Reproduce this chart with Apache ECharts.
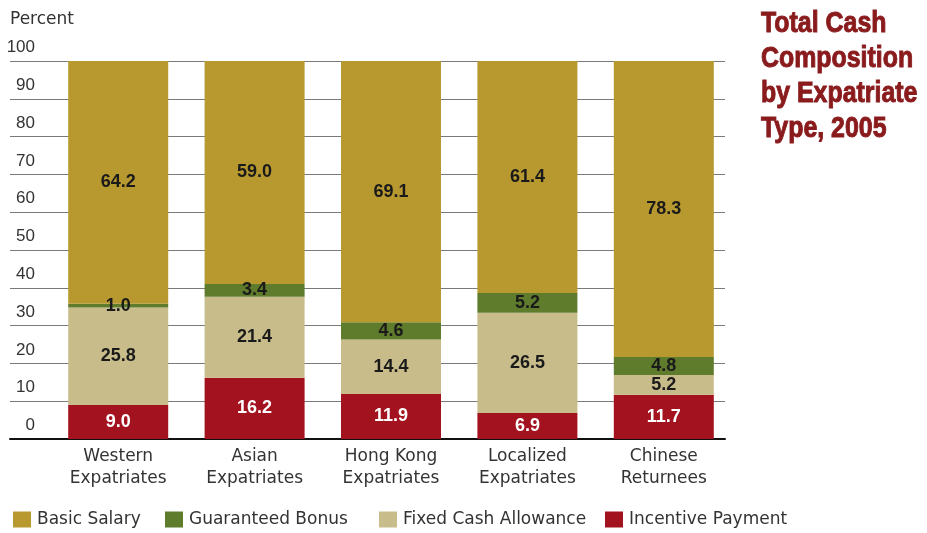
<!DOCTYPE html>
<html>
<head>
<meta charset="utf-8">
<script src="https://cdn.jsdelivr.net/npm/echarts@6/dist/echarts.min.js"></script>
<style>
  html, body { margin: 0; padding: 0; background: #fff; }
  #chart { width: 927px; height: 533px; }
</style>
</head>
<body>
<div id="chart"></div>
<script>
// Total cash composition by expatriate type, 2005 (percent of total cash)
const categories = [
  'Western\nExpatriates',
  'Asian\nExpatriates',
  'Hong Kong\nExpatriates',
  'Localized\nExpatriates',
  'Chinese\nReturnees'
];
const incentivePayment   = [9.0, 16.2, 11.9, 6.9, 11.7];
const fixedCashAllowance = [25.8, 21.4, 14.4, 26.5, 5.2];
const guaranteedBonus    = [1.0, 3.4, 4.6, 5.2, 4.8];
const basicSalary        = [64.2, 59.0, 69.1, 61.4, 78.3];
const yTicks = [0, 10, 20, 30, 40, 50, 60, 70, 80, 90, 100];
const legendNames = ['Basic Salary', 'Guaranteed Bonus', 'Fixed Cash Allowance', 'Incentive Payment'];
const titleText = 'Total Cash\nComposition\nby Expatriate\nType, 2005';

const labelFont = 'DejaVu Sans';
const tickFont = '"Liberation Sans", Arial, sans-serif';
const valueFont = '"Liberation Sans", Arial, sans-serif';

const chart = echarts.init(document.getElementById('chart'), null, { renderer: 'canvas' });

function stackSeries(name, data, color, textColor) {
  return {
    name: name,
    type: 'bar',
    stack: 'total',
    xAxisIndex: 0,
    yAxisIndex: 0,
    barWidth: 100,
    data: data,
    itemStyle: { color: color },
    label: {
      show: true,
      position: 'inside',
      formatter: p => p.value.toFixed(1),
      fontFamily: valueFont,
      fontWeight: 'bold',
      fontSize: 18,
      color: textColor
    },
    emphasis: { disabled: true }
  };
}

// one legend per entry so each swatch sits at its own x position
const legendLefts = [13, 165, 379, 605];
const legends = legendNames.map((name, i) => ({
  left: legendLefts[i],
  top: 511,
  padding: 0,
  icon: 'rect',
  itemWidth: 18,
  itemHeight: 16,
  itemGap: 0,
  selectedMode: false,
  data: [name],
  textStyle: { fontFamily: labelFont, fontSize: 17, color: '#333', padding: [0, 0, 0, 1] }
}));

chart.setOption({
  animation: false,
  backgroundColor: '#ffffff',
  graphic: [
    {
      type: 'text',
      x: 761,
      y: 6,
      scaleX: 0.83,
      style: {
        text: titleText,
        fontFamily: valueFont,
        fontWeight: 'bold',
        fontSize: 30,
        lineHeight: 35,
        fill: '#8A1B1D',
        stroke: '#8A1B1D',
        lineWidth: 1,
        verticalAlign: 'top',
        align: 'left'
      }
    }
  ],
  legend: legends,
  grid: [
    // bars
    { left: 50, right: 195, top: 61, bottom: 94 },
    // gridlines and tick labels span the full width
    { left: 10, right: 202, top: 61, bottom: 94 }
  ],
  xAxis: [
    {
      type: 'category',
      gridIndex: 0,
      data: categories,
      axisLine: { show: false },
      axisTick: { show: false },
      axisLabel: {
        fontFamily: labelFont,
        fontSize: 17,
        lineHeight: 22,
        color: '#333',
        margin: 7
      }
    },
    {
      type: 'value',
      gridIndex: 1,
      min: 0,
      max: 1,
      axisLine: { show: true, lineStyle: { color: '#111', width: 2 } },
      axisTick: { show: false },
      axisLabel: { show: false },
      splitLine: { show: false }
    }
  ],
  yAxis: [
    {
      type: 'value',
      gridIndex: 0,
      min: 0,
      max: 100,
      interval: 10,
      axisLine: { show: false },
      axisTick: { show: false },
      axisLabel: { show: false },
      splitLine: { show: false }
    },
    {
      type: 'value',
      gridIndex: 1,
      name: 'Percent',
      nameLocation: 'end',
      nameGap: 33,
      nameTextStyle: {
        fontFamily: labelFont,
        fontSize: 17,
        color: '#333',
        align: 'left'
      },
      min: 0,
      max: 100,
      interval: 10,
      axisLine: { show: false },
      axisTick: { show: false },
      axisLabel: {
        inside: true,
        margin: 25,
        align: 'right',
        verticalAlign: 'bottom',
        padding: [0, 0, 5, 0],
        fontFamily: tickFont,
        fontSize: 17,
        color: '#333',
        formatter: v => (yTicks.indexOf(v) >= 0 ? String(v) : '')
      },
      splitLine: { show: true, lineStyle: { color: '#7a7a7a', width: 1 } }
    }
  ],
  series: [
    stackSeries('Incentive Payment', incentivePayment, '#A3131F', '#ffffff'),
    stackSeries('Fixed Cash Allowance', fixedCashAllowance, '#C9BC8B', '#1a1a1a'),
    stackSeries('Guaranteed Bonus', guaranteedBonus, '#5F7B2C', '#1a1a1a'),
    stackSeries('Basic Salary', basicSalary, '#B8992F', '#1a1a1a')
  ]
});
</script>
</body>
</html>
